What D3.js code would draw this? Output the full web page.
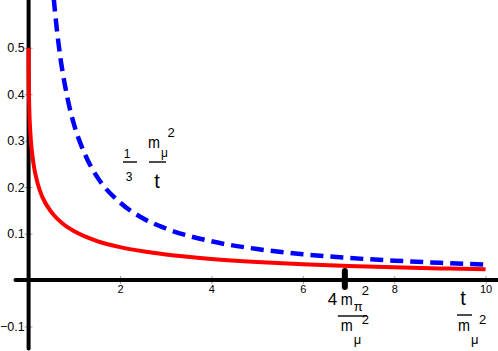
<!DOCTYPE html>
<html>
<head>
<meta charset="utf-8">
<script src="https://cdn.jsdelivr.net/npm/d3@7"></script>
<style>
  body { margin: 0; background: #fff; }
  svg text { font-family: "Liberation Sans", Arial, sans-serif; fill: #000; }
</style>
</head>
<body>
<div class="chart"></div>
<script>
// red curve (t in units of m_mu^2)
var redT = [0, 0.001, 0.003, 0.01, 0.02, 0.03, 0.05, 0.1, 0.2, 0.3, 0.5, 0.75, 1, 1.5, 2, 2.5, 3, 4, 5, 6, 7, 8, 9, 10];
var redV = [0.5, 0.457, 0.430, 0.387, 0.353, 0.331, 0.300, 0.255, 0.207, 0.179, 0.146, 0.121, 0.105, 0.0839, 0.0708, 0.0617, 0.0548, 0.0452, 0.0386, 0.0338, 0.0302, 0.0273, 0.0250, 0.0230];

// blue dashed curve  (1/3) m^2/t
var blueT = [0.55, 0.6, 0.7, 0.8, 0.9, 1, 1.25, 1.5, 2, 2.5, 3, 4, 5, 6, 7, 8, 9, 10];
var blueV = [0.606, 0.556, 0.476, 0.417, 0.370, 0.333, 0.267, 0.222, 0.167, 0.133, 0.111, 0.0833, 0.0667, 0.0556, 0.0476, 0.0417, 0.0370, 0.0333];

var xTicks = [2, 4, 6, 8, 10];
var yTicks = [-0.1, 0.1, 0.2, 0.3, 0.4, 0.5];
var threshold = 6.92;   // 4 m_pi^2 / m_mu^2

var width = 498, height = 351;

var x = d3.scaleLinear().domain([0, 10]).range([28.6, 485.6]);
var y = d3.scaleLinear().domain([0, 0.5]).range([280, 47.8]);

var svg = d3.select(".chart").append("svg")
  .attr("width", width)
  .attr("height", height);

// x ticks + labels
var gx = svg.append("g")
  .attr("transform", "translate(0," + y(0) + ")")
  .call(d3.axisBottom(x).tickValues(xTicks).tickSize(4).tickFormat(d3.format("d")));
gx.select(".domain").remove();
gx.selectAll(".tick line").attr("y1", -4).attr("y2", 4).attr("stroke", "#777").attr("stroke-width", 0.7);
gx.selectAll(".tick text").attr("y", 5).attr("font-size", 11).attr("font-family", null);

// y ticks + labels
var gy = svg.append("g")
  .attr("transform", "translate(" + x(0) + ",0)")
  .call(d3.axisLeft(y).tickValues(yTicks).tickSize(4).tickFormat(d3.format(".1f")));
gy.select(".domain").remove();
gy.selectAll(".tick line").attr("x1", -4).attr("x2", 4).attr("stroke", "#777").attr("stroke-width", 0.7);
gy.selectAll(".tick text").attr("x", -4).attr("font-size", 12.5).attr("font-family", null);

// thick axes lines
svg.append("line")
  .attr("x1", 15.5).attr("x2", width + 5)
  .attr("y1", y(0)).attr("y2", y(0))
  .attr("stroke", "#000").attr("stroke-width", 4).attr("stroke-linecap", "round");
svg.append("line")
  .attr("x1", x(0)).attr("x2", x(0))
  .attr("y1", -5).attr("y2", 348.5)
  .attr("stroke", "#000").attr("stroke-width", 4).attr("stroke-linecap", "round");

var line = d3.line()
  .x(function(d) { return x(d[0]); })
  .y(function(d) { return y(d[1]); })
  .curve(d3.curveMonotoneX);

svg.append("path")
  .datum(d3.zip(blueT, blueV))
  .attr("d", line)
  .attr("fill", "none")
  .attr("stroke", "#0000ff")
  .attr("stroke-width", 4.5)
  .attr("stroke-dasharray", "13,7");

svg.append("path")
  .datum(d3.zip(redT, redV))
  .attr("d", line)
  .attr("fill", "none")
  .attr("stroke", "#ff0000")
  .attr("stroke-width", 4);

// threshold marker
svg.append("line")
  .attr("x1", x(threshold)).attr("x2", x(threshold))
  .attr("y1", y(0) - 9).attr("y2", y(0) + 7)
  .attr("stroke", "#000").attr("stroke-width", 6).attr("stroke-linecap", "round");

function txt(s, px, py, size, anchor) {
  return svg.append("text").attr("x", px).attr("y", py)
    .attr("font-size", size).attr("text-anchor", anchor || "start").text(s);
}
function em(px, py) {
  // narrow tall "m" like the original
  return txt("m", px, py, 17).attr("textLength", 12).attr("lengthAdjust", "spacingAndGlyphs");
}
function bar(x1, x2, py) {
  svg.append("line").attr("x1", x1).attr("x2", x2).attr("y1", py).attr("y2", py)
    .attr("stroke", "#000").attr("stroke-width", 1.4);
}

// 4 m_pi^2 / m_mu^2
var mx = x(threshold);
txt("4", mx - 17, 305, 17);
em(mx - 4, 305);
txt("π", mx + 9, 311, 13);
txt("2", mx + 17, 295, 13);
bar(mx - 7, mx + 22, 316);
em(mx - 4, 331);
txt("μ", mx + 9, 344, 13);
txt("2", mx + 17, 324, 13);

// t / m_mu^2
txt("t", 463, 305, 20, "middle");
bar(457, 472, 315);
em(458, 331);
txt("μ", 471, 344, 13);
txt("2", 479, 324, 13);

// (1/3) m_mu^2 / t
txt("1", 127, 158, 12, "middle");
bar(123, 137, 162);
txt("3", 129, 181, 12, "middle");
em(148, 148);
txt("μ", 161, 157, 12);
txt("2", 167.5, 137, 13);
bar(149, 166, 162);
txt("t", 157, 188, 20, "middle");
</script>
</body>
</html>
